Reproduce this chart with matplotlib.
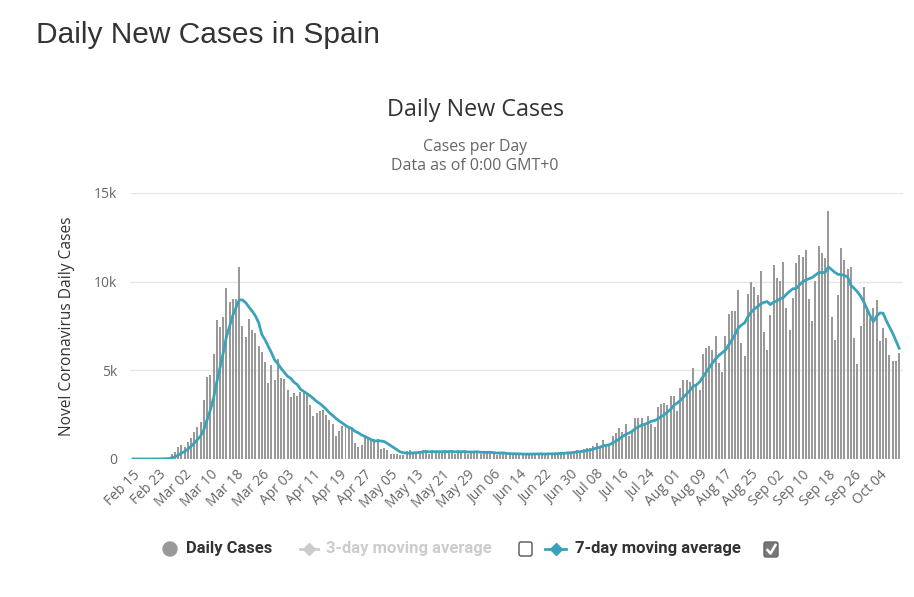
import numpy as np
import pandas as pd
import matplotlib
matplotlib.use("Agg")
import matplotlib.pyplot as plt
import matplotlib.dates as mdates
from matplotlib.lines import Line2D
from matplotlib.patches import Circle, FancyBboxPatch
from matplotlib.ticker import FuncFormatter

# daily new cases, one value per day starting Feb 15 2020
start_date = "2020-02-15"
feb_early = [2, 0, 1, 2, 3, 2, 5, 8, 12, 18, 35, 60]
wave1_rise = [300, 400, 650, 800, 700, 950, 1200, 1550, 1800, 2100, 3300, 4600,
              4750, 5900, 7850, 7450, 8000, 9650, 8850, 9000, 9000, 10800]
wave1_fall = [7500, 6900, 7900, 7300, 7100, 6400, 6050, 5450, 4300, 5300, 4450, 5650,
              4550, 4500, 3900, 3500, 3750, 3550, 3800, 3700, 3600, 3050, 2450, 2600]
april_may = [2700, 2750, 2500, 2200, 2000, 1300, 1600, 1850, 1800, 1750, 1700, 900,
             700, 800, 1250, 1150, 1150, 1100, 1100, 550, 600, 500, 300, 300, 300, 250, 220,
             450, 500, 420, 380]
may_june = [350, 480, 420, 300, 500, 450, 400, 320, 500, 460, 380, 300, 480, 440, 400,
            300, 450, 420, 360, 280, 420, 380]
june_low = [350, 300, 250, 380, 320, 280, 220, 300, 280, 250, 320, 270, 300, 220, 300,
            330, 280, 250, 350, 300, 280]
july_start = [350, 400, 330, 420, 380, 450, 500, 450, 550, 600,
              600, 750, 900, 750, 1050, 750, 850]
july_aug = [1300, 1450, 1750, 1550, 2000, 1300, 1550, 2300, 2300, 2300, 2000, 2450,
            2000, 1800, 2950, 3100, 3150, 3050, 3550, 3550, 2700, 4000]
aug = [4450, 4450, 4350, 5150, 4150, 3900, 5900, 6250, 6350, 6150, 6950, 5400, 4900,
       6950, 8200, 8350, 8350, 9550, 6550, 5800, 9300]
sep_oct = [10000, 9700, 9250, 10600, 7150, 6150, 8100, 10950, 10200, 10050, 11100, 8500,
           7300, 9100, 11050, 11500, 11400, 11800, 9000, 7800, 10050, 12000, 11600, 11350,
           14000, 8000, 6700, 9250, 11900, 11250, 10700, 10800, 6800, 5350, 7500, 9700,
           8400, 7950, 8500, 8950, 6650, 7400, 6800, 5850, 5500, 5550, 5950]

daily_cases = (feb_early + wave1_rise + wave1_fall + april_may + may_june + june_low
               + july_start + july_aug + aug + sep_oct)
dates = pd.date_range(start_date, periods=len(daily_cases), freq="D")
avg7 = pd.Series(daily_cases).rolling(7, min_periods=1).mean()

bar_color = "#999999"
line_color = "#3aa3b9"
dark = "#333333"
mid = "#666666"

fig = plt.figure(figsize=(9.14, 5.97), dpi=100)
fig.patch.set_facecolor("white")

ax = fig.add_axes([130 / 914, 1 - 459 / 597, 773 / 914, 266 / 597])
ax.bar(dates, daily_cases, width=0.62, color=bar_color, zorder=2)
ax.plot(dates, avg7, color=line_color, lw=2.0, zorder=3)

ax.set_ylim(0, 15000)
ax.set_xlim(dates[0] - pd.Timedelta(days=0.95), dates[-1] + pd.Timedelta(days=1.2))
ax.set_yticks([0, 5000, 10000, 15000])
ax.yaxis.set_major_formatter(FuncFormatter(lambda v, p: "0" if v == 0 else f"{int(v / 1000)}k"))
ax.set_xticks(dates[::8])
ax.xaxis.set_major_formatter(mdates.DateFormatter("%b %d"))
ax.grid(axis="y", color="#e6e6e6", lw=1, zorder=0)
for s in ax.spines.values():
    s.set_visible(False)
ax.tick_params(axis="both", length=0, colors=mid, labelsize=10)
ax.tick_params(axis="y", pad=9)
ax.tick_params(axis="x", pad=6)
for lab in ax.get_xticklabels():
    lab.set_rotation(45)
    lab.set_ha("right")
    lab.set_rotation_mode("anchor")
    lab.set_fontfamily("Open Sans")
for lab in ax.get_yticklabels():
    lab.set_fontfamily("Open Sans")
ax.set_ylabel("Novel Coronavirus Daily Cases", color=dark, fontsize=11.2,
              family="Open Sans", labelpad=14)

# page heading and chart titles
fig.text(36 / 914, 1 - 35 / 597, "Daily New Cases in Spain", fontsize=21.5,
         family="Liberation Sans", color=dark, va="center", ha="left")
fig.text(475 / 914, 1 - 110 / 597, "Daily New Cases", fontsize=16.8,
         family="Open Sans", color=dark, va="center", ha="center")
fig.text(475 / 914, 1 - 147 / 597, "Cases per Day", fontsize=11.4,
         family="Open Sans", color=mid, va="center", ha="center")
fig.text(475 / 914, 1 - 166 / 597, "Data as of 0:00 GMT+0", fontsize=11.5,
         family="Open Sans", color=mid, va="center", ha="center")

# legend drawn in pixel coordinates
lg = fig.add_axes([0, 0, 1, 1], facecolor="none")
lg.set_xlim(0, 914)
lg.set_ylim(597, 0)
lg.axis("off")
ly = 549
lg.add_patch(Circle((170, ly), 7, color=bar_color))
lg.text(186, ly, "Daily Cases", fontsize=11.9, fontweight="bold", family="Roboto",
        color=dark, va="center")
lg.add_line(Line2D([300, 318], [ly, ly], color="#cccccc", lw=2))
lg.plot([309], [ly], marker="D", ms=6, color="#cccccc")
lg.text(326, ly, "3-day moving average", fontsize=12, fontweight="bold",
        family="Roboto", color="#cccccc", va="center")
lg.add_patch(FancyBboxPatch((519, ly - 7), 13, 14, boxstyle="round,pad=0,rounding_size=2",
                            fc="white", ec="#555555", lw=1))
lg.add_line(Line2D([545, 566], [ly, ly], color=line_color, lw=2))
lg.plot([555.5], [ly], marker="D", ms=6, color=line_color)
lg.text(575, ly, "7-day moving average", fontsize=12, fontweight="bold",
        family="Roboto", color=dark, va="center")
lg.add_patch(FancyBboxPatch((764, ly - 7), 14, 15, boxstyle="round,pad=0,rounding_size=2",
                            fc="#777777", ec="#666666", lw=1))
lg.add_line(Line2D([767.5, 770.5, 775.5], [ly + 1, ly + 4.5, ly - 4], color="white", lw=1.8))

fig.savefig("out.png", dpi=100)
